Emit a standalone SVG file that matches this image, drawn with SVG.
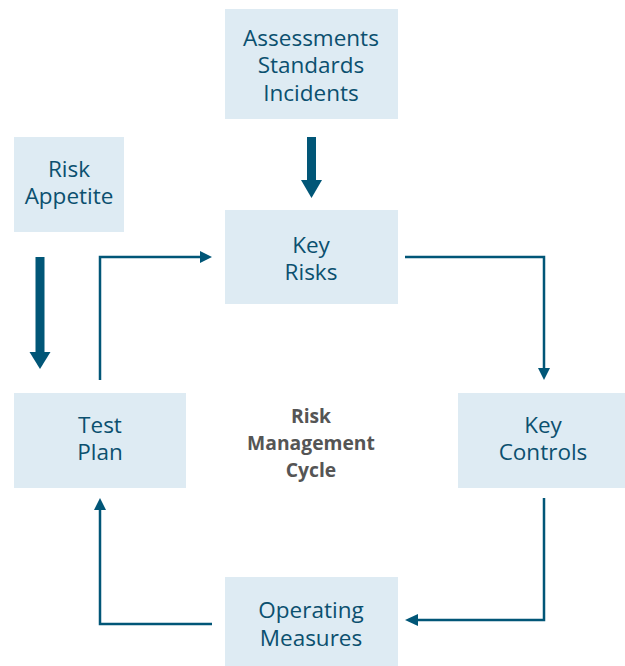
<svg xmlns="http://www.w3.org/2000/svg" width="625" height="666" viewBox="0 0 625 666">
<defs>
<style>
.box{fill:#deebf3}
.t{font-family:"Open Sans","Noto Sans",sans-serif;font-size:22.5px;fill:#0b506f;text-anchor:middle}
.c{font-family:"Open Sans","Noto Sans",sans-serif;font-size:19.3px;font-weight:bold;fill:#555555;text-anchor:middle}
.thin{fill:none;stroke:#015677;stroke-width:2.5}
.thick{fill:none;stroke:#015677;stroke-width:9}
.head{fill:#015677}
</style>
</defs>
<rect width="625" height="666" fill="#ffffff"/>
<g id="inputs">
<rect class="box" x="225" y="9" width="173" height="110"/>
<text class="t" x="311" y="46">Assessments<tspan x="311" dy="27.2">Standards</tspan><tspan x="311" dy="27.3">Incidents</tspan></text>
</g>
<g id="risk-appetite">
<rect class="box" x="14" y="137" width="110" height="95"/>
<text class="t" x="69" y="177">Risk<tspan x="69" dy="27">Appetite</tspan></text>
</g>
<g id="key-risks">
<rect class="box" x="225" y="210" width="173" height="94"/>
<text class="t" x="311" y="253">Key<tspan x="311" dy="27">Risks</tspan></text>
</g>
<g id="key-controls">
<rect class="box" x="458" y="393" width="167" height="95"/>
<text class="t" x="543" y="433">Key<tspan x="543" dy="27">Controls</tspan></text>
</g>
<g id="test-plan">
<rect class="box" x="14" y="393" width="172" height="95"/>
<text class="t" x="100" y="433">Test<tspan x="100" dy="27">Plan</tspan></text>
</g>
<g id="operating-measures">
<rect class="box" x="225" y="577" width="173" height="89"/>
<text class="t" x="311" y="618">Operating<tspan x="311" dy="28">Measures</tspan></text>
</g>
<g id="center">
<text class="c" x="311" y="423">Risk<tspan x="311" dy="27">Management</tspan><tspan x="311" dy="27">Cycle</tspan></text>
</g>
<g id="connectors">
<line class="thick" x1="311.5" y1="137" x2="311.5" y2="182"/>
<polygon class="head" points="301,180 322,180 311.5,198"/>
<line class="thick" x1="40" y1="257" x2="40" y2="354"/>
<polygon class="head" points="29.5,352 50.5,352 40,369"/>
<polyline class="thin" points="100,380 100,257 202,257"/>
<polygon class="head" points="200,251 212,257 200,263"/>
<polyline class="thin" points="405,257 544,257 544,370"/>
<polygon class="head" points="538,368 550,368 544,380"/>
<polyline class="thin" points="544,498 544,620 416,620"/>
<polygon class="head" points="418,614 418,626 405,620"/>
<polyline class="thin" points="212,624 100,624 100,508"/>
<polygon class="head" points="94,510 106,510 100,498"/>
</g>
</svg>
